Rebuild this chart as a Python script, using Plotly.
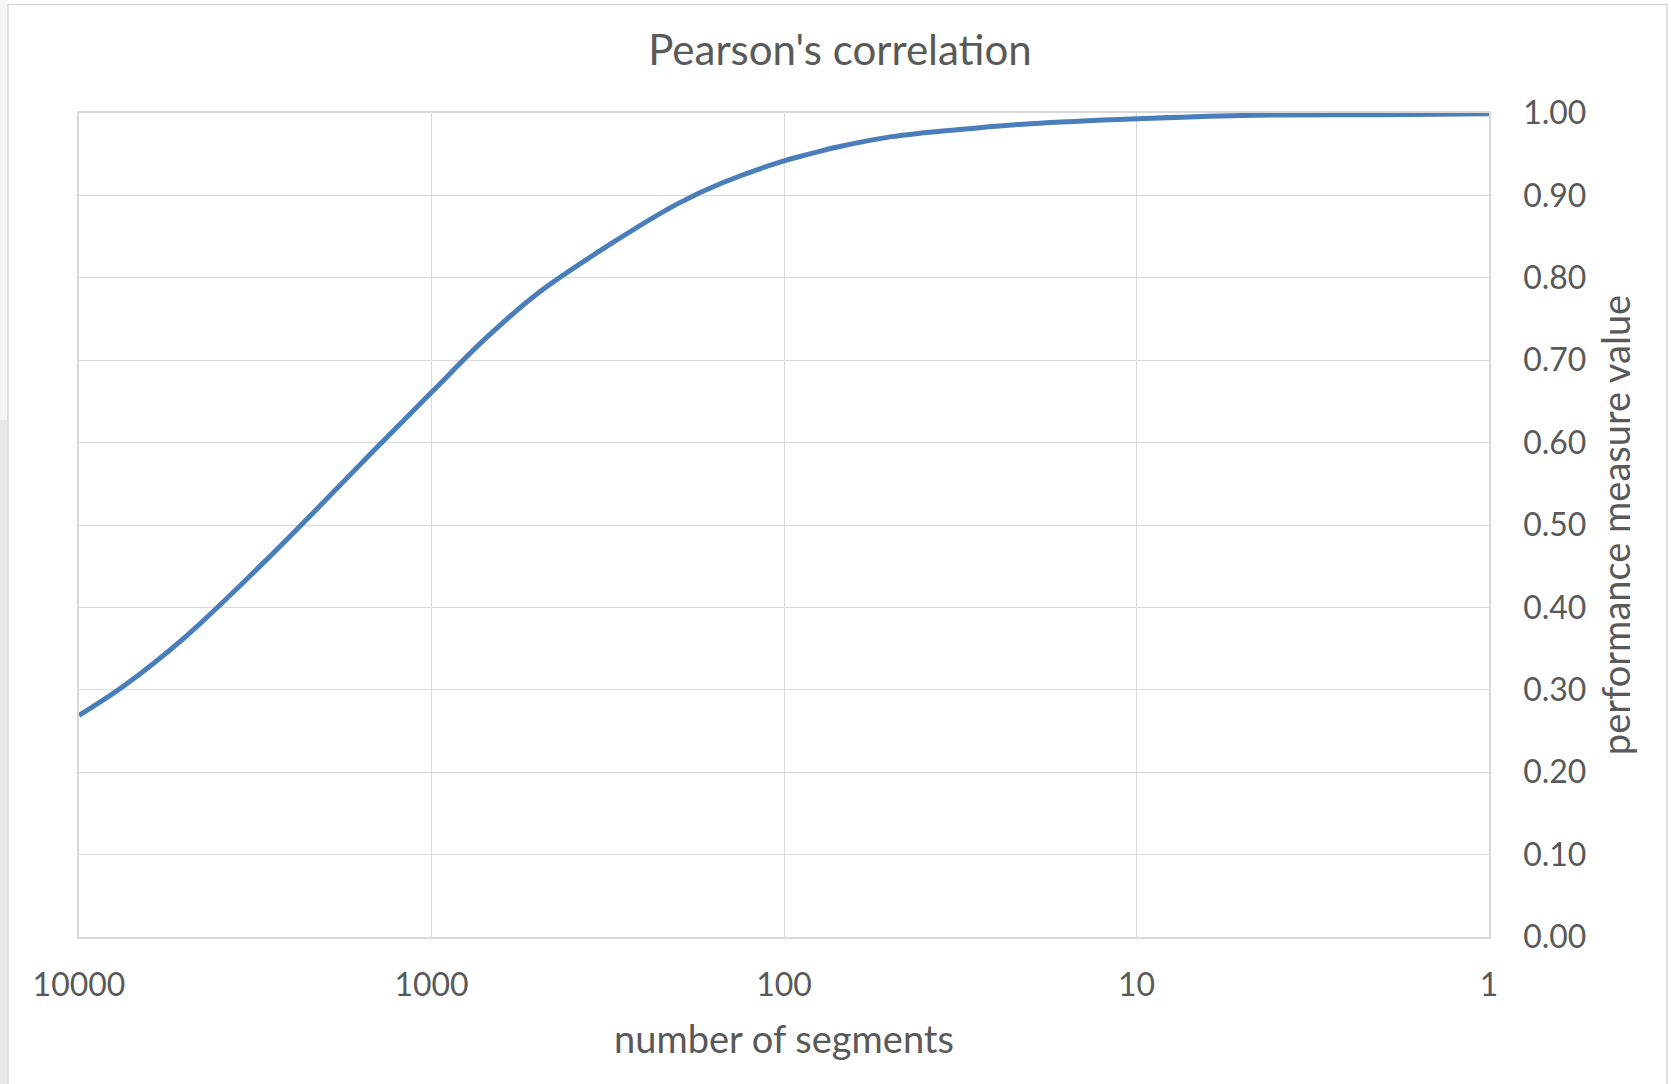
import plotly.graph_objects as go

# Number of segments (x, log scale, decreasing left to right) and Pearson's r
segments = [10000, 7500, 5000, 3000, 2000, 1500, 1000, 700, 500, 300, 200,
            150, 100, 85, 70, 50, 40, 30, 20, 10, 5, 2, 1]
pearson_r = [0.269, 0.304, 0.364, 0.454, 0.530, 0.585, 0.661, 0.727, 0.781,
             0.845, 0.890, 0.915, 0.942, 0.950, 0.959, 0.971, 0.976, 0.981,
             0.987, 0.993, 0.997, 0.998, 0.999]

x_tick_vals = [10000, 1000, 100, 10, 1]
x_tick_text = ["10000", "1000", "100", "10", "1"]

FONT = "Lato"
TEXT = "#595959"
GRID = "#d9d9d9"

W, H = 1671, 1084
ML, MR, MT, MB = 79, 182, 113, 147
PW, PH = W - ML - MR, H - MT - MB


def px_x(p):
    return (p - ML) / PW


def px_y(p):
    return (H - MB - p) / PH


fig = go.Figure()
fig.add_trace(go.Scatter(
    x=segments, y=pearson_r, mode="lines",
    line=dict(color="#4a7ebb", width=5, shape="spline", smoothing=1.0),
    showlegend=False, hoverinfo="x+y",
))

fig.update_layout(
    width=W, height=H,
    margin=dict(l=ML, r=MR, t=MT, b=MB, autoexpand=False),
    paper_bgcolor="white", plot_bgcolor="white",
    font=dict(family=FONT, color=TEXT),
    title=dict(text="Pearson's correlation", x=840 / W, xref="container",
               xanchor="center", y=1 - 50 / H, yref="container",
               yanchor="middle",
               font=dict(family=FONT, size=42, color=TEXT)),
    xaxis=dict(
        type="log", range=[4, 0],
        tickvals=x_tick_vals, ticktext=x_tick_text,
        showgrid=True, gridcolor=GRID, gridwidth=1,
        showline=True, linecolor=GRID, linewidth=1.5, mirror=True,
        zeroline=False, ticks="", ticklabelstandoff=19,
        tickfont=dict(family=FONT, size=32, color=TEXT),
        title=dict(text="number of segments", standoff=24,
                   font=dict(family=FONT, size=38, color=TEXT)),
    ),
    yaxis=dict(
        side="right", range=[0, 1], dtick=0.1, tick0=0, tickformat=".2f",
        showgrid=True, gridcolor=GRID, gridwidth=1,
        showline=True, linecolor=GRID, linewidth=1.5, mirror=True,
        zeroline=False, ticks="", ticklabelstandoff=26,
        tickfont=dict(family=FONT, size=32, color=TEXT),
        title=dict(text="performance measure value", standoff=18,
                   font=dict(family=FONT, size=38, color=TEXT)),
    ),
    shapes=[
        # shaded strip along the left edge of the page
        dict(type="rect", xref="paper", yref="paper", layer="below",
             x0=px_x(0), x1=px_x(7.5), y0=px_y(0), y1=px_y(420),
             fillcolor="#f5f5f5", line=dict(width=0)),
        dict(type="rect", xref="paper", yref="paper", layer="below",
             x0=px_x(0), x1=px_x(7.5), y0=px_y(420), y1=px_y(H),
             fillcolor="#e8e8e8", line=dict(width=0)),
        # chart area border
        dict(type="rect", xref="paper", yref="paper", layer="below",
             x0=px_x(8), x1=px_x(1667), y0=px_y(4.5), y1=px_y(H + 10),
             fillcolor="rgba(0,0,0,0)", line=dict(color=GRID, width=1.5)),
    ],
)

fig.write_html("out.html")
